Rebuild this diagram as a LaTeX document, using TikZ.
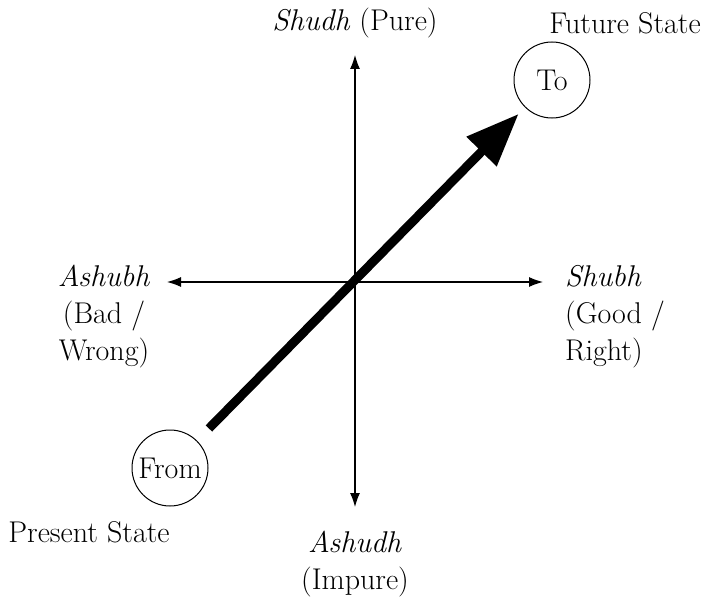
\documentclass[tikz,border=0pt]{standalone}
\usepackage{tikz}
\usetikzlibrary{arrows.meta}

\begin{document}
\begin{tikzpicture}[x=1pt, y=-1pt,
    state/.style={draw, circle, minimum size=76pt, inner sep=0pt, line width=1pt},
    lbl/.style={align=center, inner sep=0pt},
    axis/.style={{Latex[length=14pt,width=10pt]}-{Latex[length=14pt,width=10pt]}, line width=1.1pt},
    move/.style={-{Triangle[length=53pt,width=40pt]}, line width=9pt,
                 shorten <=17pt, shorten >=9pt},
    every node/.style={font=\fontsize{30}{37}\selectfont}
]
\useasboundingbox (0,0) rectangle (710,602);
% axes
\coordinate (wtip) at (167,282);
\coordinate (etip) at (543,282);
\coordinate (ntip) at (355,55);
\coordinate (stip) at (355,507);
\draw[axis] (wtip) -- (etip);
\draw[axis] (ntip) -- (stip);
\node[lbl] (pure) at (355,23) {\textit{Shudh} (Pure)};
\node[lbl] (impure) at (355,564) {\textit{Ashudh}\\(Impure)};
\node[lbl] (bad) at (104,317) {\textit{Ashubh}\\(Bad /\\Wrong)};
\node[lbl, align=left, anchor=west] (good) at (565,317) {\textit{Shubh}\\(Good /\\Right)};
% states
\node[state] (from) at (170,468) {From};
\node[state] (to) at (552,80) {To};
\node[lbl] (present) at (89,532) {Present State};
\node[lbl] (future) at (625,23) {Future State};
\draw[move] (from) -- (to);
\end{tikzpicture}
\end{document}
